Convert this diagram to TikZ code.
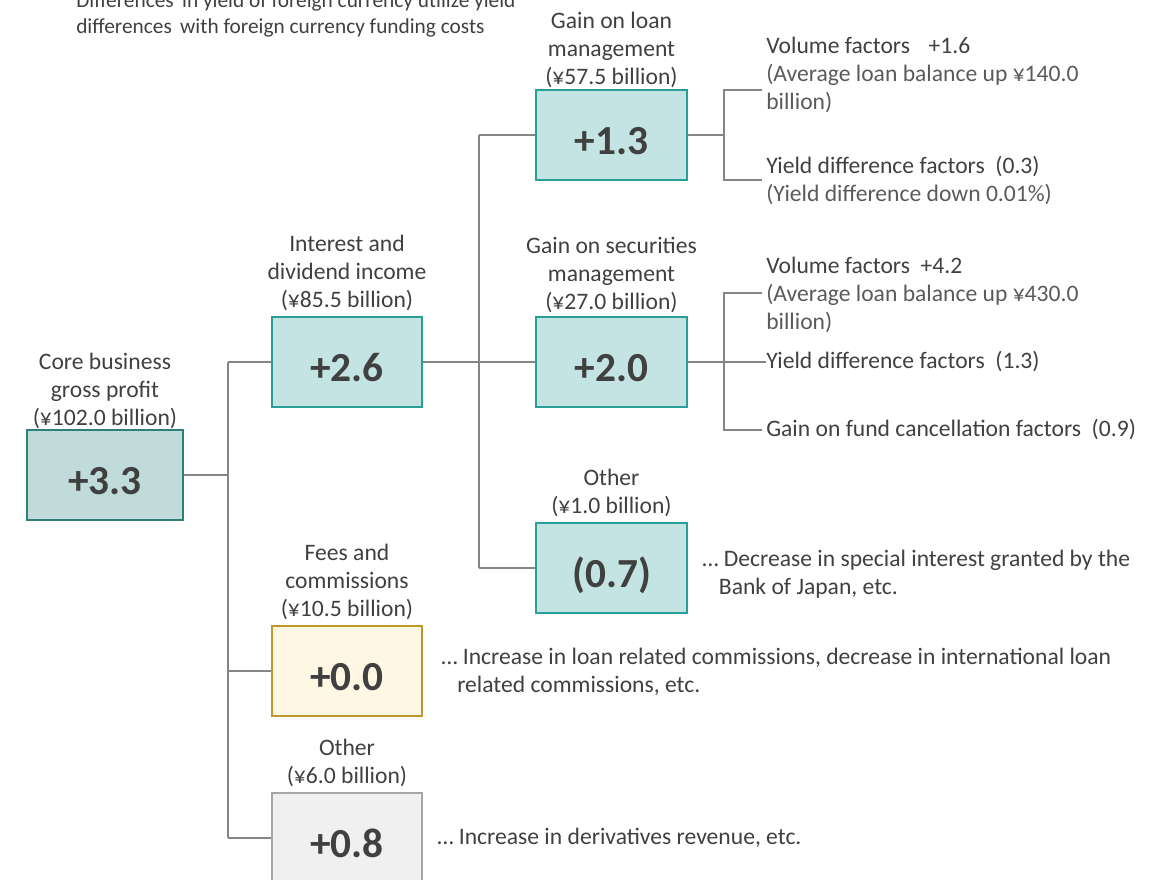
\documentclass[tikz,border=0pt]{standalone}
\usepackage{fontspec}
\setmainfont{Carlito}
\usetikzlibrary{positioning}

\definecolor{txt}{HTML}{404040}
\definecolor{subtxt}{HTML}{5A5A5A}
\definecolor{linegray}{HTML}{858585}
\definecolor{corefill}{HTML}{C0DBDA}
\definecolor{coredraw}{HTML}{2E7F79}
\definecolor{tealfill}{HTML}{C3E4E2}
\definecolor{tealdraw}{HTML}{2A9F97}
\definecolor{feefill}{HTML}{FFF6E3}
\definecolor{feedraw}{HTML}{BF982B}
\definecolor{othfill}{HTML}{F0F0F0}
\definecolor{othdraw}{HTML}{A6A6A6}

\begin{document}
\begin{tikzpicture}[
    x=0.75pt, y=-0.75pt,
    box/.style={
      draw, line width=1.3pt,
      minimum width=112.5pt, minimum height=67.5pt,
      font=\fontsize{31}{36}\selectfont\bfseries,
      text=txt, inner sep=0pt, text height=29pt, text depth=0pt
    },
    core/.style={box, fill=corefill, draw=coredraw, minimum width=117pt},
    teal/.style={box, fill=tealfill, draw=tealdraw, minimum width=113pt},
    fee/.style={box, fill=feefill, draw=feedraw},
    oth/.style={box, fill=othfill, draw=othdraw},
    lbl/.style={align=center, text=txt, inner sep=0pt,
      font=\fontsize{17.7}{21}\selectfont},
    note/.style={align=left, text=txt, inner sep=0pt, anchor=west,
      font=\fontsize{17.7}{21}\selectfont},
    conn/.style={draw=linegray, line width=1.7pt}
]

  \useasboundingbox (0,0) rectangle (1153,880);

  % boxes
  \node[core] (core) at (105,475) {+3.3};
  \node[teal] (interest) at (347,362) {+2.6};
  \node[teal] (loan) at (611.5,135) {+1.3};
  \node[teal] (secur) at (611.5,362) {+2.0};
  \node[teal] (otherA) at (611.5,568) {(0.7)};
  \node[fee] (fees) at (347,671) {+0.0};
  \node[oth] (otherB) at (347,838) {+0.8};

  % labels above the boxes
  \node[lbl, above=0pt of core] {Core business\\gross profit\\(¥102.0 billion)};
  \node[lbl, above=4pt of interest] {Interest and\\dividend income\\(¥85.5 billion)};
  \node[lbl, above=1pt of loan] {Gain on loan\\management\\(¥57.5 billion)};
  \node[lbl, above=2pt of secur] {Gain on securities\\management\\(¥27.0 billion)};
  \node[lbl, above=4pt of otherA] {Other\\(¥1.0 billion)};
  \node[lbl, above=4pt of fees] {Fees and\\commissions\\(¥10.5 billion)};
  \node[lbl, above=4pt of otherB] {Other\\(¥6.0 billion)};

  % note at the top
  \node[note, font=\fontsize{16}{19.5}\selectfont] (top) at (76,15)
    {Differences\, in yield of foreign currency utilize yield\\differences\, with foreign currency funding costs};

  % factor texts
  \node[note] (volA) at (766,75)
    {Volume factors\hspace{14pt}+1.6\\{\color{subtxt}(Average loan balance up ¥140.0}\\{\color{subtxt}billion)}};
  \node[note] (yldA) at (766,180.5)
    {Yield difference factors\hspace{8pt}(0.3)\\{\color{subtxt}(Yield difference down 0.01\%)}};
  \node[note] (volB) at (766,294.5)
    {Volume factors\hspace{8pt}+4.2\\{\color{subtxt}(Average loan balance up ¥430.0}\\{\color{subtxt}billion)}};
  \node[note] (yldB) at (766,362) {Yield difference factors\hspace{8pt}(1.3)};
  \node[note] (fund) at (766,430) {Gain on fund cancellation factors\hspace{8pt}(0.9)};

  % remarks
  \node[note] (remA) at (702,574)
    {… Decrease in special interest granted by the\\\hspace*{12.5pt}Bank of Japan, etc.};
  \node[note] (remB) at (441,672)
    {… Increase in loan related commissions, decrease in international loan\\\hspace*{12pt}related commissions, etc.};
  \node[note] (remC) at (437,838) {… Increase in derivatives revenue, etc.};

  % connectors from core business gross profit
  \coordinate (trunk) at (228,0);
  \draw[conn] (core) -- (core -| trunk);
  \draw[conn] (trunk |- interest) -- (trunk |- otherB);
  \foreach \n in {interest,fees,otherB}
    \draw[conn] (trunk |- \n) -- (\n);

  % connectors from interest and dividend income
  \coordinate (branch) at (479,0);
  \draw[conn] (interest) -- (secur);
  \draw[conn] (branch |- loan) -- (branch |- otherA);
  \foreach \n in {loan,otherA}
    \draw[conn] (branch |- \n) -- (\n);

  % factor connectors
  \coordinate (fork) at (724,0);
  \coordinate (endA) at (762,90);
  \coordinate (endB) at (762,180);
  \coordinate (endC) at (762,293);
  \coordinate (endD) at (762,430);
  \draw[conn] (loan) -- (loan -| fork);
  \draw[conn] (endA) -- (endA -| fork) -- (endB -| fork) -- (endB);
  \draw[conn] (secur) -- (yldB.west);
  \draw[conn] (endC) -- (endC -| fork) -- (endD -| fork) -- (endD);

\end{tikzpicture}
\end{document}
